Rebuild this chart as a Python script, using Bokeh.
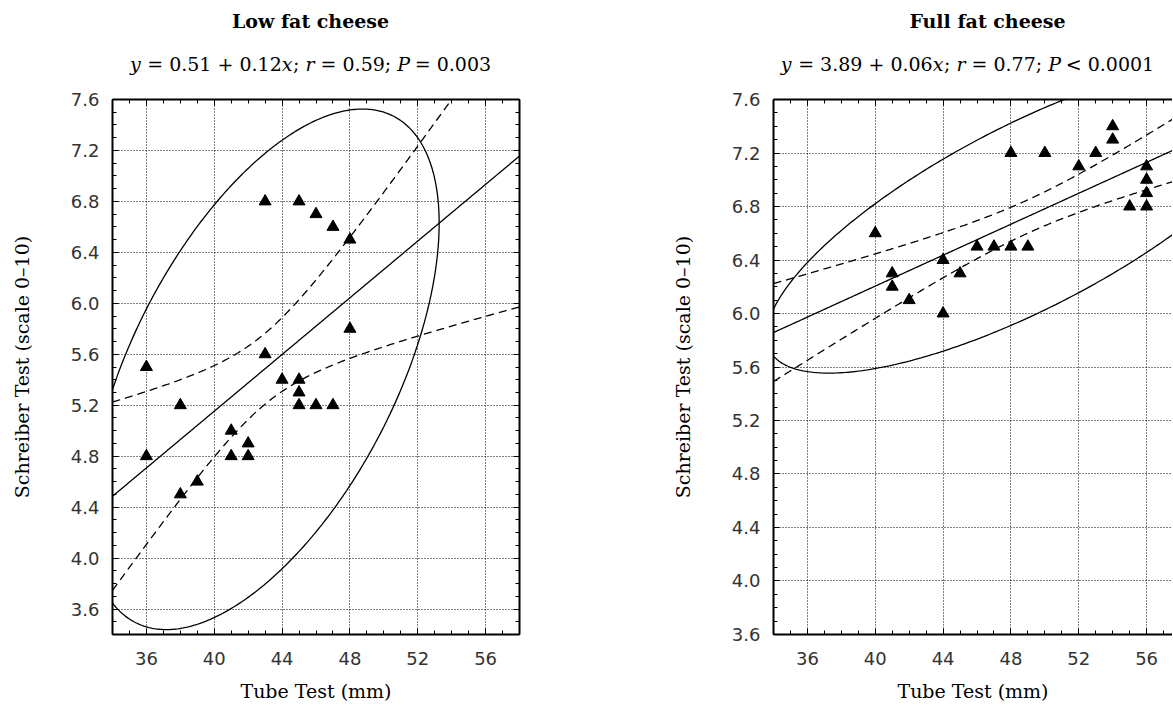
import math
import numpy as np
from bokeh.plotting import figure
from bokeh.layouts import row, column
from bokeh.models import (Range1d, LinearAxis, SingleIntervalTicker, NumeralTickFormatter,
                          CustomJSTickFormatter)
from bokeh.core.properties import value
from bokeh.embed import file_html
from bokeh.resources import INLINE

# ---------------- data ----------------
low_x = [43, 45, 46, 47, 48, 48, 43, 36, 44, 45, 45, 45, 46, 47, 38, 36, 41, 41, 42, 42, 39, 38]
low_y = [6.8, 6.8, 6.7, 6.6, 6.5, 5.8, 5.6, 5.5, 5.4, 5.4, 5.3, 5.2, 5.2, 5.2, 5.2, 4.8, 5.0, 4.8, 4.9, 4.8, 4.6, 4.5]

full_x = [40, 41, 41, 42, 44, 44, 45, 46, 47, 48, 49, 48, 50, 52, 53, 54, 54, 55, 56, 56, 56, 56]
full_y = [6.6, 6.3, 6.2, 6.1, 6.4, 6.0, 6.3, 6.5, 6.5, 6.5, 6.5, 7.2, 7.2, 7.1, 7.2, 7.4, 7.3, 6.8, 7.1, 7.0, 6.9, 6.8]

titles = ["Low fat cheese", "Full fat cheese"]
low_eq = [("y", True), (" = 0.51 + 0.12", False), ("x", True), ("; ", False), ("r", True),
          (" = 0.59; ", False), ("P", True), (" = 0.003", False)]
full_eq = [("y", True), (" = 3.89 + 0.06", False), ("x", True), ("; ", False), ("r", True),
           (" = 0.77; ", False), ("P", True), (" < 0.0001", False)]
x_label = "Tube Test (mm)"
y_label = "Schreiber Test (scale 0–10)"
x_tick_step = 4
y_tick_step = 0.4

SERIF = "DejaVu Serif"
SANS = "DejaVu Sans"

HEAD_H = 79       # header strip holding the titles
FIG_H = 707 - HEAD_H
TOP = 20          # border above frame inside the plot figure
BOTTOM = 73       # border below frame (px)
PX_PER_X = 407 / 24.0

# approximate advance widths (em) of DejaVu Serif, used to lay out the mixed italic subtitle
W = {" ": 0.318, ".": 0.318, ";": 0.337, "=": 0.838, "+": 0.838, "<": 0.838,
     "y": 0.592, "x": 0.592, "r": 0.478, "P": 0.603}


def text_width(s, size):
    return sum(W.get(c, 0.636) for c in s) * size


def t_quantile(p, df):
    c = math.exp(math.lgamma((df + 1) / 2) - math.lgamma(df / 2)) / math.sqrt(df * math.pi)
    g = np.linspace(0, 12, 240001)
    pdf = c * (1 + g ** 2 / df) ** (-(df + 1) / 2)
    cdf = 0.5 + np.concatenate([[0.0], np.cumsum((pdf[1:] + pdf[:-1]) / 2 * np.diff(g))])
    return float(np.interp(p, cdf, g))


def f2_quantile(p, d2):
    return d2 / 2 * ((1 - p) ** (-2 / d2) - 1)


def make_header(width, x_range, b_left, b_right, title, eq, title_dx, sub_dx):
    # header shares the plot's x range; its frame is aligned with the plot frame
    h = figure(width=width, height=HEAD_H, x_range=x_range, y_range=Range1d(0, HEAD_H),
               output_backend="svg", toolbar_location=None, x_axis_type=None, y_axis_type=None,
               min_border_left=b_left, min_border_right=b_right, min_border_top=0,
               min_border_bottom=0, outline_line_color=None, background_fill_color="white",
               border_fill_color="white")
    h.xgrid.visible = False
    h.ygrid.visible = False
    x0 = x_range.start

    def dx(px):
        return x0 + px / PX_PER_X

    h.text(x=[dx(title_dx)], y=[HEAD_H - 20], text=[title], text_font=value(SERIF),
           text_font_size="19px", text_font_style="bold", text_align="center",
           text_baseline="middle", text_color="black")
    fs = 19
    total = sum(text_width(t, fs) for t, _ in eq)
    cx = sub_dx - total / 2
    for t, it in eq:
        lead = len(t) - len(t.lstrip(" "))
        h.text(x=[dx(cx + lead * W[" "] * fs)], y=[HEAD_H - 63], text=[t.strip(" ")],
               text_font=value(SERIF), text_font_size=f"{fs}px",
               text_font_style="italic" if it else "normal",
               text_align="left", text_baseline="middle", text_color="black")
        cx += text_width(t, fs)
    return h


def make_panel(xs, ys, y_lo, width, b_left, b_right, right_axis):
    y_hi = 7.6001
    frame_w = width - b_left - b_right
    x_hi = 34 + frame_w / PX_PER_X
    p = figure(width=width, height=FIG_H, x_range=Range1d(34, x_hi), y_range=Range1d(y_lo, y_hi),
               output_backend="svg", toolbar_location=None,
               min_border_left=b_left, min_border_right=b_right,
               min_border_top=TOP, min_border_bottom=BOTTOM,
               outline_line_color=None, background_fill_color="white",
               border_fill_color="white")

    xt = SingleIntervalTicker(interval=x_tick_step, num_minor_ticks=4)
    yt = SingleIntervalTicker(interval=y_tick_step, num_minor_ticks=4)
    p.xaxis.ticker = xt
    p.yaxis.ticker = yt
    p.xgrid.ticker = xt
    p.ygrid.ticker = yt
    p.yaxis.formatter = NumeralTickFormatter(format="0.0")

    for g in (p.xgrid, p.ygrid):
        g.grid_line_color = "black"
        g.grid_line_dash = "1 2"
        g.grid_line_width = 1

    for ax in (p.xaxis, p.yaxis):
        ax.axis_line_width = 2
        ax.axis_line_color = "black"
        ax.major_tick_in = 6
        ax.major_tick_out = 0
        ax.minor_tick_in = 4
        ax.minor_tick_out = 0
        ax.major_tick_line_color = "black"
        ax.minor_tick_line_color = "black"
        ax.major_label_text_font = SANS
        ax.major_label_text_font_size = "18px"
        ax.major_label_text_color = "#333333"
        ax.axis_label_text_font = SERIF
        ax.axis_label_text_font_size = "19px"
        ax.axis_label_text_font_style = "normal"
        ax.axis_label_text_color = "black"

    p.xaxis.axis_label = x_label
    p.yaxis.axis_label = y_label
    p.xaxis.major_label_standoff = 17
    p.xaxis.axis_label_standoff = 12
    p.yaxis.major_label_standoff = 13
    p.yaxis.axis_label_standoff = 35

    sides = ["above"] + (["right"] if right_axis else [])
    for side in sides:
        tk = xt if side == "above" else yt
        ax = LinearAxis(ticker=tk, formatter=CustomJSTickFormatter(code="return ''"),
                        major_tick_in=6, major_tick_out=0, minor_tick_in=4, minor_tick_out=0,
                        axis_line_width=2, major_label_standoff=0,
                        major_label_text_font_size="1px")
        p.add_layout(ax, side)

    # statistics derived from the data
    x = np.array(xs, dtype=float)
    y = np.array(ys, dtype=float)
    n = len(x)
    mx, my = x.mean(), y.mean()
    sxx = ((x - mx) ** 2).sum()
    sxy = ((x - mx) * (y - my)).sum()
    b = sxy / sxx
    a = my - b * mx
    resid = y - (a + b * x)
    s = math.sqrt((resid ** 2).sum() / (n - 2))
    tq = t_quantile(0.975, n - 2)

    xg = np.linspace(34, x_hi, 300)
    yh = a + b * xg
    half = tq * s * np.sqrt(1 / n + (xg - mx) ** 2 / sxx)

    cov = np.cov(np.vstack([x, y]))
    L = np.linalg.cholesky(cov)
    k = math.sqrt(2 * (n - 1) * (n + 1) / (n * (n - 2)) * f2_quantile(0.95, n - 2))
    th = np.linspace(0, 2 * math.pi, 500)
    circ = np.vstack([np.cos(th), np.sin(th)])
    ell = np.array([[mx], [my]]) + k * L @ circ

    p.line(ell[0], ell[1], line_color="black", line_width=1.3)
    p.line(xg, yh + half, line_color="black", line_width=1.3, line_dash="8 5")
    p.line(xg, yh - half, line_color="black", line_width=1.3, line_dash="8 5")
    p.line(xg, yh, line_color="black", line_width=1.3)
    p.scatter(xs, ys, marker="triangle", size=12, color="black")
    return p


p1 = make_panel(low_x, low_y, y_lo=3.4, width=560, b_left=112, b_right=41, right_axis=True)
h1 = make_header(560, p1.x_range, 112, 41, titles[0], low_eq, title_dx=198, sub_dx=198)
p2 = make_panel(full_x, full_y, y_lo=3.5999, width=612, b_left=213, b_right=0, right_axis=False)
h2 = make_header(612, p2.x_range, 213, 0, titles[1], full_eq, title_dx=214, sub_dx=194)

layout = row(column(h1, p1), column(h2, p2))
open("out.html", "w").write(file_html(layout, INLINE))
